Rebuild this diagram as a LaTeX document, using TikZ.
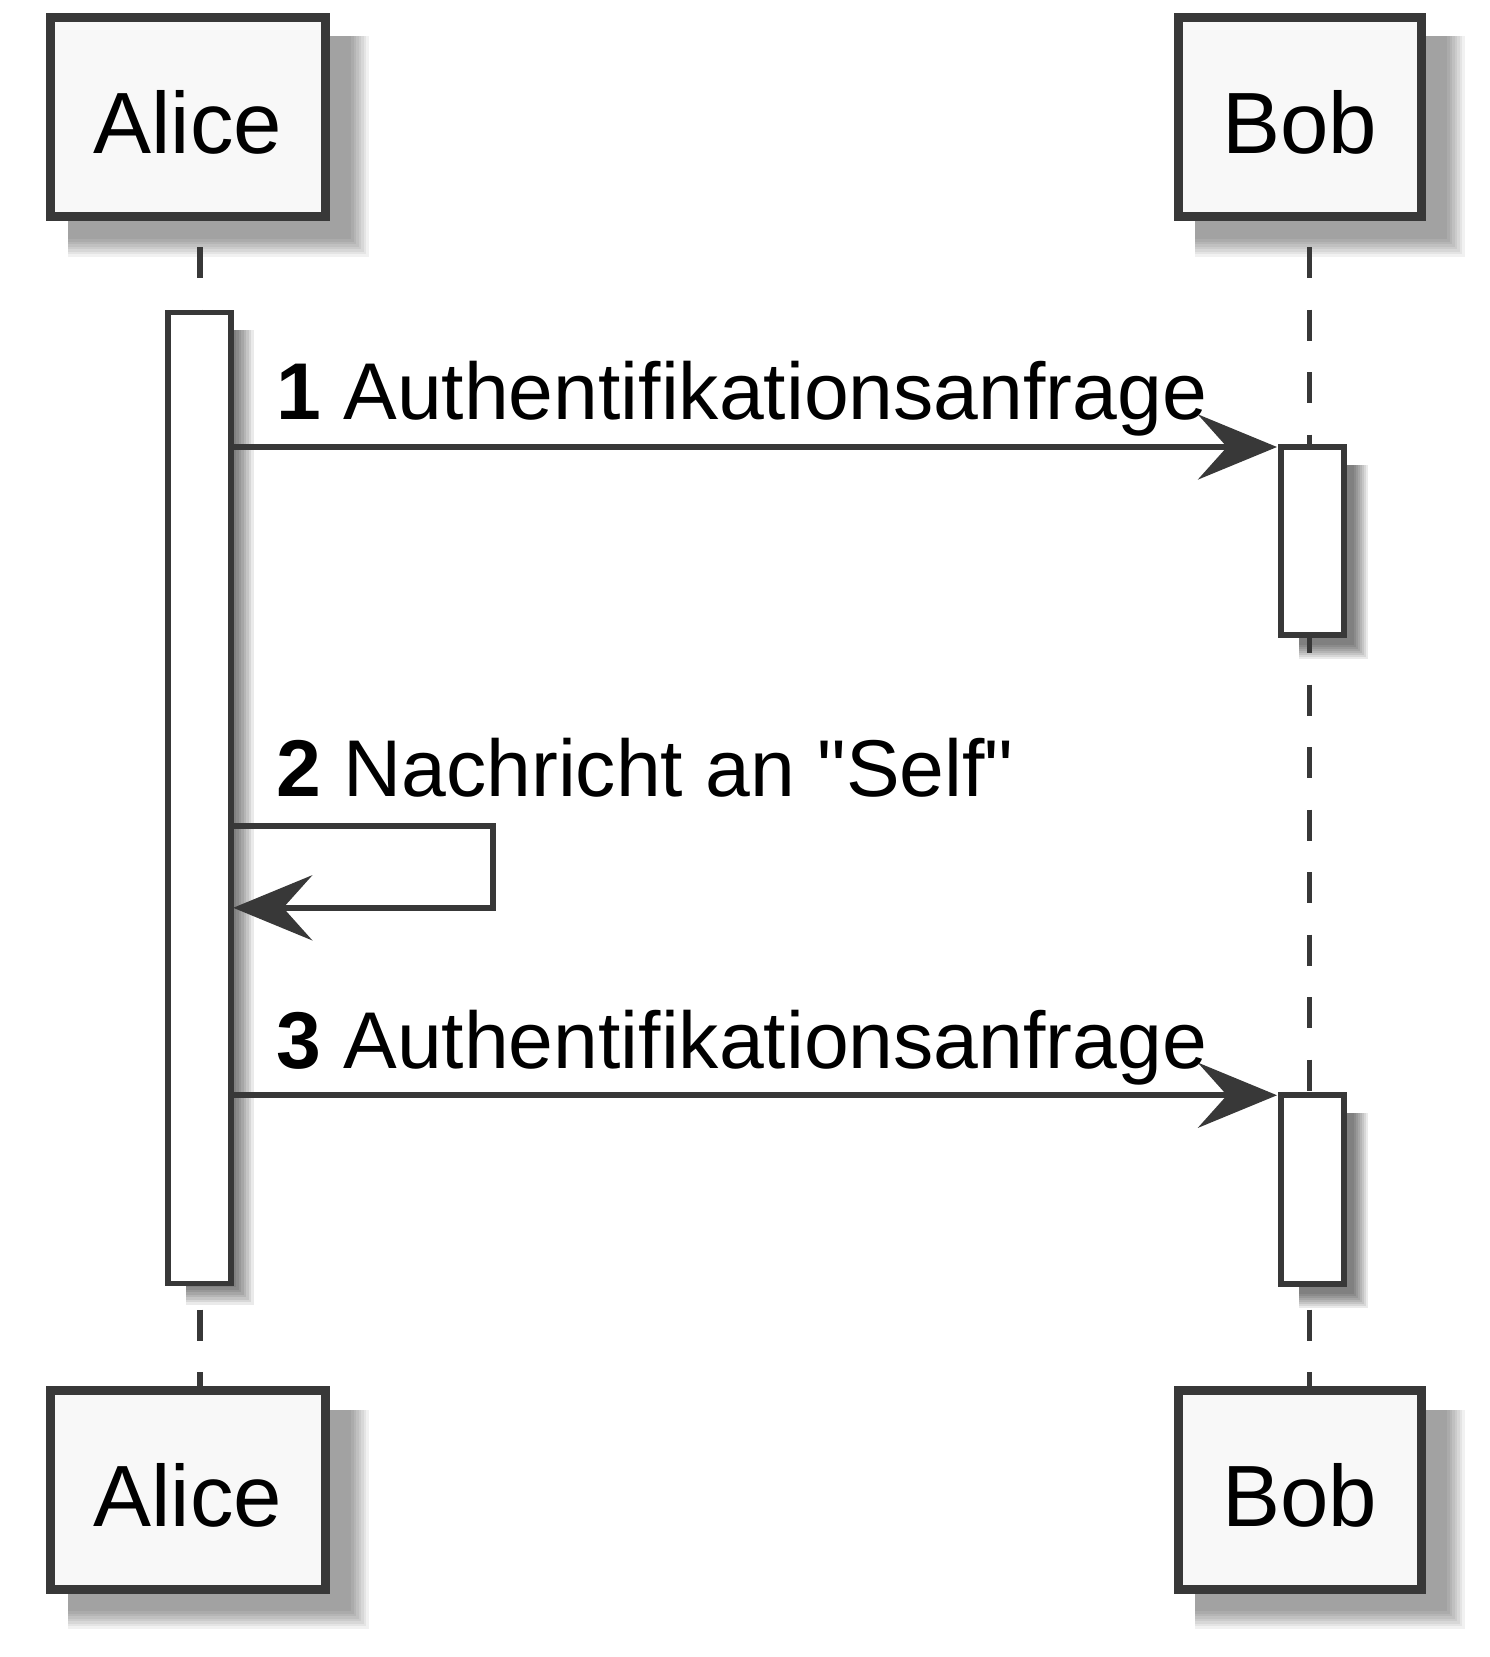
\documentclass[tikz,border=0pt]{standalone}
\usepackage{fontspec}
\setmainfont{Liberation Sans}
\newfontfamily\lsans{Liberation Sans}
\usetikzlibrary{arrows.meta}
\definecolor{ln}{HTML}{383838}
\definecolor{boxfill}{HTML}{F8F8F8}
% soft shadow: x0 y0 x1 y1 blur opacity-per-layer
\newcommand\softshadow[6]{%
  \foreach \k in {0,...,7}{%
    \fill[black, fill opacity=#6] (#1,#2) rectangle ({#3-#5+2*#5*\k/7},{#4-#5+2*#5*\k/7});
  }%
}
\tikzset{
  part/.style={draw=ln, fill=boxfill, line width=9pt, minimum height=199pt,
    inner sep=0pt, outer sep=0pt, text height=72pt, text depth=0pt,
    font=\lsans\fontsize{87}{100}\selectfont},
  act/.style={draw=ln, fill=white, line width=5.7pt, inner sep=0pt, outer sep=0pt},
  lifeline/.style={draw=ln, line width=5.7pt, dash pattern=on 31pt off 31.5pt},
  msg/.style={draw=ln, line width=5.7pt, -{Stealth[length=79pt,width=65pt,inset=29pt]}},
  msglabel/.style={anchor=base west, inner sep=0pt, font=\lsans\fontsize{80.5}{96}\selectfont},
}
\begin{document}
\begin{tikzpicture}[x=1pt,y=-1pt]
\useasboundingbox (0,0) rectangle (1490,1657);
% shadows
\softshadow{68}{36}{360}{248}{9}{0.056}
\softshadow{1195}{36}{1456}{248}{9}{0.056}
\softshadow{68}{1410}{360}{1620}{9}{0.056}
\softshadow{1195}{1410}{1456}{1620}{9}{0.056}
\softshadow{186}{330}{245}{1296}{9}{0.083}
\softshadow{1299}{465}{1361}{652}{7}{0.083}
\softshadow{1299}{1113}{1361}{1301}{7}{0.083}
% participants
\node[part, minimum width=275pt] (aliceTop) at (187.9,117) {Alice};
\node[part, minimum width=243.3pt] (bobTop) at (1299.7,117) {Bob};
\node[part, minimum width=275pt] (aliceBot) at (187.9,1490.3) {Alice};
\node[part, minimum width=243.3pt] (bobBot) at (1299.7,1490.3) {Bob};
% lifelines
\coordinate (aliceLL) at (200.3,247);
\coordinate (bobLL) at (1309.5,247);
\draw[lifeline] (aliceLL) -- (aliceLL |- aliceBot.north);
\draw[lifeline] (bobLL) -- (bobLL |- bobBot.north);
% activations
\node[act, minimum width=62.9pt, minimum height=971pt] (aliceAct) at (199.75,798) {};
\node[act, minimum width=63pt, minimum height=188pt] (bobAct1) at (1312.5,541) {};
\node[act, minimum width=63pt, minimum height=188.5pt] (bobAct2) at (1312.5,1189.5) {};
% message 1
\draw[msg] (aliceAct.east |- bobAct1.north west) -- ([xshift=-4pt]bobAct1.north west);
\node[msglabel] (m1) at (276,419) {\textbf{1} Authentifikationsanfrage};
% message 2 (self)
\coordinate (selfR1) at (493,826);
\coordinate (selfR2) at (493,907.8);
\draw[msg] (aliceAct.east |- selfR1) -- (selfR1) -- (selfR2) -- ([xshift=2pt]aliceAct.east |- selfR2);
\node[msglabel] (m2) at (276,796) {\textbf{2} Nachricht an \symbol{34}Self\symbol{34}};
% message 3
\draw[msg] (aliceAct.east |- bobAct2.north west) -- ([xshift=-4pt]bobAct2.north west);
\node[msglabel] (m3) at (276,1068) {\textbf{3} Authentifikationsanfrage};
\end{tikzpicture}
\end{document}
